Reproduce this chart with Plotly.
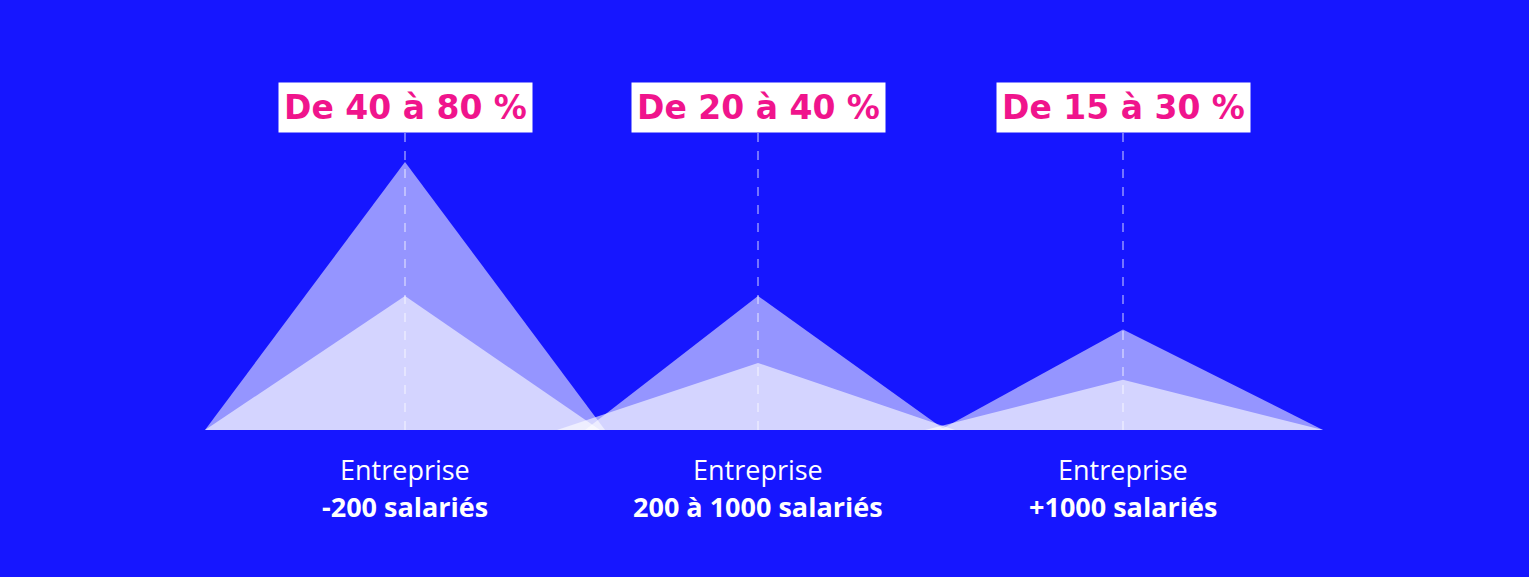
import plotly.graph_objects as go

# ── Data ──
categories_top = ["Entreprise", "Entreprise", "Entreprise"]
categories_bottom = ["-200 salariés", "200 à 1000 salariés", "+1000 salariés"]
high_values = [80, 40, 30]
low_values = [40, 20, 15]
labels = ["De 40 à 80 %", "De 20 à 40 %", "De 15 à 30 %"]

# ── Geometry (pixel-like x axis, y in %) ──
centers = [405, 758, 1123]
outer_span = [(205, 605), (585, 945), (940, 1323)]
inner_span = [(205, 600), (557, 955), (925, 1323)]
PX = 3.35  # px per unit
BASE = 430
W, H = 1529, 577
y_top = BASE / PX
y_bot = -(H - BASE) / PX

fig = go.Figure()
for i, c in enumerate(centers):
    l, r = outer_span[i]
    fig.add_trace(go.Scatter(
        x=[l, c, r, l], y=[0, high_values[i], 0, 0], mode="lines",
        fill="toself", fillcolor="rgba(255,255,255,0.55)", line=dict(width=0),
        hoverinfo="skip", showlegend=False))
for i, c in enumerate(centers):
    l, r = inner_span[i]
    fig.add_trace(go.Scatter(
        x=[l, c, r, l], y=[0, low_values[i], 0, 0], mode="lines",
        fill="toself", fillcolor="rgba(255,255,255,0.6)", line=dict(width=0),
        hoverinfo="skip", showlegend=False))

for i, c in enumerate(centers):
    fig.add_shape(type="line", x0=c, x1=c, y0=0, y1=(BASE - 130) / PX,
                  line=dict(color="rgba(255,255,255,0.8)", width=1, dash="dash"))
    fig.add_annotation(x=c, y=(BASE - 107) / PX, text="<b>" + labels[i] + "</b>",
                       showarrow=False, bgcolor="white", borderpad=5,
                       font=dict(family="DejaVu Sans", size=33, color="#F0148C"))
    fig.add_annotation(x=c, y=-(469 - BASE) / PX, text=categories_top[i], showarrow=False,
                       font=dict(family="Open Sans", size=27, color="white"))
    fig.add_annotation(x=c, y=-(506 - BASE) / PX, text="<b>" + categories_bottom[i] + "</b>",
                       showarrow=False, font=dict(family="Open Sans", size=27, color="white"))

fig.update_layout(
    width=W, height=H, margin=dict(l=0, r=0, t=0, b=0),
    paper_bgcolor="#1616FF", plot_bgcolor="#1616FF",
    xaxis=dict(range=[0, W], visible=False, fixedrange=True),
    yaxis=dict(range=[y_bot, y_top], visible=False, fixedrange=True),
)

fig.write_html("out.html", config={"displayModeBar": False},
               post_script="document.body.style.margin='0';document.body.style.background='#1616FF';")
